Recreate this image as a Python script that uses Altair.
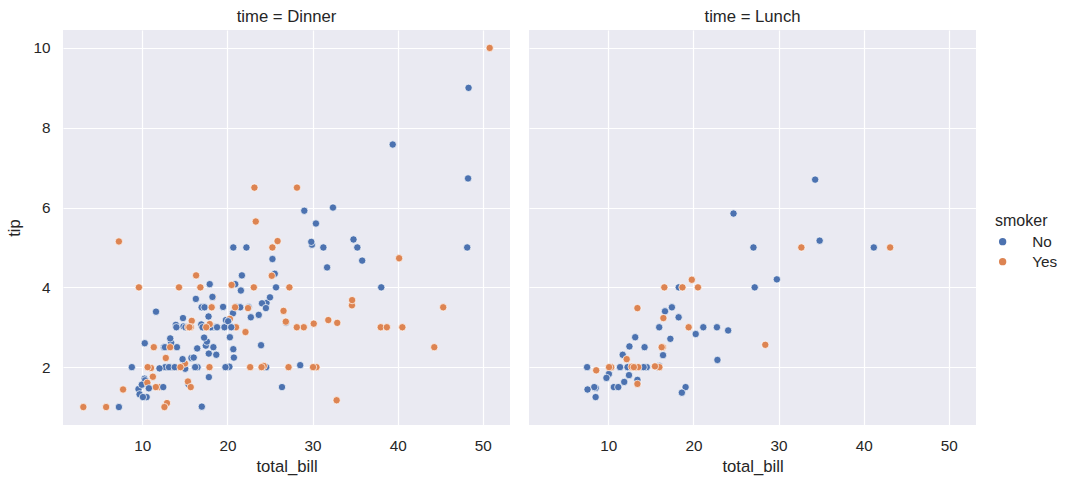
import altair as alt
import pandas as pd

# ---- Dinner panel data (in original order) ----
dinner_bill = [16.99, 10.34, 21.01, 23.68, 24.59, 25.29, 8.77, 26.88, 15.04, 14.78, 10.27, 35.26, 15.42, 18.43,
               14.83, 21.58, 10.33, 16.29, 16.97, 20.65, 17.92, 20.29, 15.77, 39.42, 19.82, 17.81, 13.37, 12.69,
               21.7, 19.65, 9.55, 18.35, 15.06, 20.69, 17.78, 24.06, 16.31, 16.93, 18.69, 31.27, 16.04, 17.46,
               13.94, 9.68, 30.4, 18.29, 22.23, 32.4, 28.55, 18.04, 12.54, 10.29, 34.81, 9.94, 25.56, 19.49,
               38.01, 26.41, 11.24, 48.27, 20.29, 13.81, 11.02, 18.29, 17.59, 20.08, 16.45, 3.07, 20.23, 15.01,
               12.02, 17.07, 26.86, 25.28, 14.73, 10.51, 17.92,
               28.97, 22.49, 5.75, 16.32, 22.75, 40.17, 27.28, 12.03, 21.01, 12.46, 11.35, 15.38, 44.3, 22.42,
               20.92, 15.36, 20.49, 25.21, 18.24, 14.31, 14.0, 7.25, 38.07, 23.95, 25.71, 17.31, 29.93,
               14.07, 13.13, 17.26, 24.55, 19.77, 29.85, 48.17, 25.0, 13.39, 16.49, 21.5, 12.66, 16.21, 13.81,
               17.51, 24.52, 20.76, 31.71, 10.59, 10.63, 50.81, 15.81, 7.25, 31.85, 16.82, 32.9, 17.89, 14.48,
               9.6, 34.63, 34.65, 23.33, 45.35, 23.17, 40.55, 20.69, 20.9, 30.46, 18.15, 23.1, 15.69,
               26.59, 38.73, 24.27, 12.76, 30.06, 25.89, 48.33, 13.27, 28.17, 12.9, 28.15, 11.59, 7.74, 30.14,
               20.45, 13.28, 22.12, 24.01, 15.69, 11.61, 10.77, 15.53, 10.07, 12.6, 32.83, 35.83, 29.03, 27.18,
               22.67, 17.82, 18.78]
dinner_tip = [1.01, 1.66, 3.5, 3.31, 3.61, 4.71, 2.0, 3.12, 1.96, 3.23, 1.71, 5.0, 1.57, 3.0,
              3.02, 3.92, 1.67, 3.71, 3.5, 3.35, 4.08, 2.75, 2.23, 7.58, 3.18, 2.34, 2.0, 2.0,
              4.3, 3.0, 1.45, 2.5, 3.0, 2.45, 3.27, 3.6, 2.0, 3.07, 2.31, 5.0, 2.24, 2.54,
              3.06, 1.32, 5.6, 3.0, 5.0, 6.0, 2.05, 3.0, 2.5, 2.6, 5.2, 1.56, 4.34, 3.51,
              3.0, 1.5, 1.76, 6.73, 3.21, 2.0, 1.98, 3.76, 2.64, 3.15, 2.47, 1.0, 2.01, 2.09,
              1.97, 3.0, 3.14, 5.0, 2.2, 1.25, 3.08,
              3.0, 3.5, 1.0, 4.3, 3.25, 4.73, 4.0, 1.5, 3.0, 1.5, 2.5, 3.0, 2.5, 3.48,
              4.08, 1.64, 4.06, 4.29, 3.76, 4.0, 3.0, 1.0, 4.0, 2.55, 4.0, 3.5, 5.07,
              2.5, 2.0, 2.74, 2.0, 2.0, 5.14, 5.0, 3.75, 2.61, 2.0, 3.5, 2.5, 2.0, 2.0,
              3.0, 3.48, 2.24, 4.5, 1.61, 2.0, 10.0, 3.16, 5.15, 3.18, 4.0, 3.11, 2.0, 2.0,
              4.0, 3.55, 3.68, 5.65, 3.5, 6.5, 3.0, 5.0, 3.5, 2.0, 3.5, 4.0, 1.5,
              3.41, 3.0, 2.03, 2.23, 2.0, 5.16, 9.0, 2.5, 6.5, 1.1, 3.0, 1.5, 1.44, 3.09,
              3.0, 2.72, 2.88, 2.0, 3.0, 3.39, 1.47, 3.0, 1.25, 1.0, 1.17, 4.67, 5.92, 2.0,
              2.0, 1.75, 3.0]
dinner_smoker = ["No"] * 56 + ["Yes", "No", "Yes", "No", "Yes", "Yes", "Yes", "Yes", "No", "No", "No", "Yes",
                               "No", "Yes", "No", "No", "Yes", "Yes", "No", "No", "Yes"] + \
                ["Yes", "No", "Yes", "Yes", "No", "Yes", "Yes", "Yes", "Yes", "No", "Yes", "Yes", "Yes", "Yes",
                 "No", "Yes", "Yes", "Yes", "No", "Yes", "No", "No", "No", "No", "No", "No", "No"] + \
                ["No"] * 14 + ["Yes", "No", "No", "No"] + ["Yes"] * 17 + ["No"] + ["Yes"] * 5 + \
                ["Yes"] * 6 + ["No"] + ["Yes"] * 7 + \
                ["No", "No", "Yes", "Yes", "Yes", "No", "No", "Yes", "No", "Yes", "Yes", "No", "No", "Yes",
                 "Yes", "No", "No"]

# ---- Lunch panel data (in original order) ----
lunch_bill = [27.2, 22.76, 17.29, 19.44, 16.66, 10.07, 32.68, 15.98, 34.83, 13.03, 18.28, 24.71, 21.16,
              10.65, 12.43, 24.08, 11.69, 13.42, 14.26, 15.95, 12.48, 29.8, 8.52, 14.52, 11.38, 22.82, 19.08,
              20.27, 11.17, 12.26, 18.26, 8.51, 10.33, 14.15, 16.0, 13.16, 17.47, 34.3, 41.19, 27.05, 16.43,
              8.35, 18.64, 11.87, 9.78, 7.51,
              19.81, 28.44, 15.48, 16.58, 7.56, 10.34, 43.11, 13.0, 13.51, 18.71, 12.74, 13.0, 16.4, 20.53, 16.47,
              12.16, 13.42, 8.58, 15.98, 13.42, 16.27, 10.09]
lunch_tip = [4.0, 3.0, 2.71, 3.0, 3.4, 1.83, 5.0, 2.03, 5.17, 2.0, 4.0, 5.85, 3.0,
             1.5, 1.8, 2.92, 2.31, 1.68, 2.5, 2.0, 2.52, 4.2, 1.48, 2.0, 2.0, 2.18, 1.5,
             2.83, 1.5, 2.0, 3.25, 1.25, 2.0, 2.0, 2.0, 2.75, 3.5, 6.7, 5.0, 5.0, 2.3,
             1.5, 1.36, 1.63, 1.73, 2.0,
             4.19, 2.56, 2.02, 4.0, 1.44, 2.0, 5.0, 2.0, 2.0, 4.0, 2.01, 2.0, 2.5, 4.0, 3.23,
             2.2, 3.48, 1.92, 3.0, 1.58, 2.5, 2.0]
lunch_smoker = ["No", "No", "No", "Yes", "No", "No", "Yes", "No", "No", "No", "No", "No", "No"] + \
               ["No"] * 21 + ["Yes"] + ["No"] * 11 + \
               ["Yes", "Yes", "Yes", "Yes", "No", "Yes", "Yes", "Yes", "Yes", "Yes", "Yes", "Yes", "Yes", "Yes",
                "Yes"] + ["Yes", "Yes", "Yes", "No", "Yes", "Yes", "Yes"]

x_ticks = [10, 20, 30, 40, 50]
y_ticks = [2, 4, 6, 8, 10]
smoker_levels = ["No", "Yes"]
palette = ["#4C72B0", "#DD8452"]

df_dinner = pd.DataFrame({"total_bill": dinner_bill, "tip": dinner_tip, "smoker": dinner_smoker})
df_lunch = pd.DataFrame({"total_bill": lunch_bill, "tip": lunch_tip, "smoker": lunch_smoker})

xscale = alt.Scale(domain=[0.683, 53.197], nice=False, zero=False)
yscale = alt.Scale(domain=[0.55, 10.45], nice=False, zero=False)
cscale = alt.Scale(domain=smoker_levels, range=palette)

legend = alt.Legend(
    orient="none", legendX=932, legendY=183, title="smoker",
    titleFontSize=16, titleFontWeight="normal", titleColor="#262626", titleFont="Liberation Sans",
    titlePadding=5, labelFontSize=15.3, labelColor="#262626", labelFont="Liberation Sans",
    symbolType="circle", symbolSize=54, symbolOffset=0, labelOffset=22, rowPadding=4,
    symbolStrokeWidth=0,
)


def panel(df, title, first):
    if first:
        yaxis = alt.Axis(values=y_ticks, titlePadding=9)
        y = alt.Y("tip:Q", scale=yscale, axis=yaxis, title="tip")
    else:
        yaxis = alt.Axis(values=y_ticks, labels=False)
        y = alt.Y("tip:Q", scale=yscale, axis=yaxis, title=None)
    return alt.Chart(df).mark_circle(size=54, opacity=1, stroke="white", strokeWidth=0.7).encode(
        x=alt.X("total_bill:Q", scale=xscale, axis=alt.Axis(values=x_ticks, titlePadding=5), title="total_bill"),
        y=y,
        color=alt.Color("smoker:N", scale=cscale, legend=legend),
    ).properties(width=447, height=395, title=title)


chart = alt.hconcat(
    panel(df_dinner, "time = Dinner", True),
    panel(df_lunch, "time = Lunch", False),
    spacing=19,
).resolve_scale(color="shared").resolve_legend(color="shared").properties(
    padding={"left": 6, "top": 9, "right": 5, "bottom": 5}
).configure(
    font="Liberation Sans", background="white"
).configure_view(
    fill="#EAEAF2", strokeWidth=0
).configure_axis(
    labelFont="Liberation Sans", labelFontSize=15.3, labelColor="#262626",
    titleFont="Liberation Sans", titleFontSize=16.7, titleFontWeight="normal", titleColor="#262626",
    domain=False, ticks=False, grid=True, gridColor="white", gridWidth=1.2, labelPadding=13,
).configure_title(
    font="Liberation Sans", fontSize=16.7, fontWeight="normal", color="#262626",
    offset=4, baseline="bottom", anchor="middle",
)

chart.save("out.html", embed_options={"renderer": "svg", "actions": False})
